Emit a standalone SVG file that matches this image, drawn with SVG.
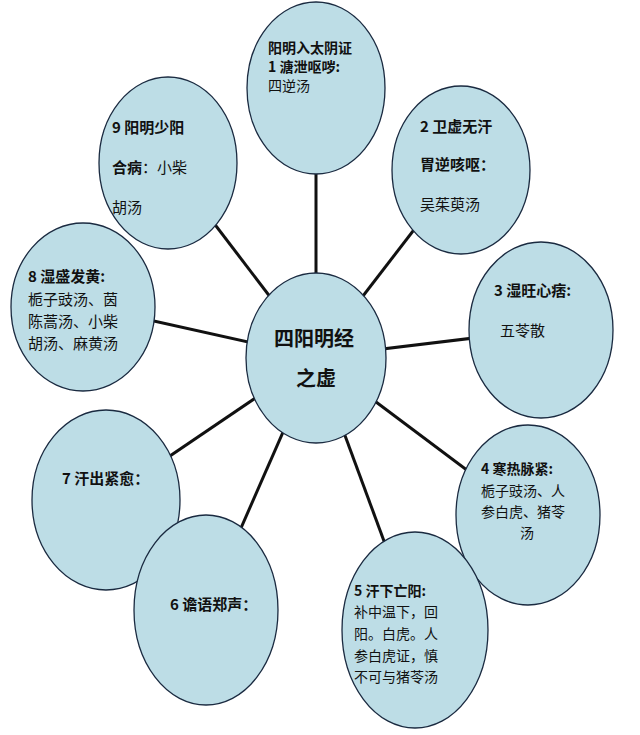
<svg xmlns="http://www.w3.org/2000/svg" width="640" height="735" viewBox="0 0 640 735">
<style>
.n{fill:#bddde6;stroke:#1a2a40;stroke-width:1.3}
.c line{stroke:#111;stroke-width:3}
text{font-family:"Noto Sans CJK SC","Liberation Sans",sans-serif;font-size:15px;fill:#111}
.b{font-weight:bold}
.s{font-size:14px}
.big{font-size:20px}
</style>
<rect width="640" height="735" fill="#fff"/>
<g id="connectors" class="c">
<line x1="316" y1="357" x2="316" y2="90"/>
<line x1="316" y1="357" x2="168" y2="163"/>
<line x1="316" y1="357" x2="460" y2="170"/>
<line x1="316" y1="357" x2="82" y2="305"/>
<line x1="316" y1="357" x2="540" y2="330"/>
<line x1="316" y1="357" x2="105" y2="500"/>
<line x1="316" y1="357" x2="527" y2="515"/>
<line x1="316" y1="357" x2="205" y2="610"/>
<line x1="316" y1="357" x2="415" y2="625"/>
</g>
<g id="n1"><ellipse class="n" cx="316" cy="88" rx="69" ry="86"/>
<text x="268" y="53" class="b s">阳明入太阴证</text>
<text x="268" y="72" class="b s">1 溏泄呕哕:</text>
<text x="268" y="91" class="s">四逆汤</text></g>
<g id="n9"><ellipse class="n" cx="168" cy="163" rx="69" ry="86"/>
<text x="112" y="133" class="b">9  阳明少阳</text>
<text x="112" y="173"><tspan class="b">合病</tspan>：小柴</text>
<text x="112" y="213">胡汤</text></g>
<g id="n2"><ellipse class="n" cx="461" cy="170" rx="69" ry="84"/>
<text x="420" y="132" class="b">2  卫虚无汗</text>
<text x="420" y="170" class="b">胃逆咳呕：</text>
<text x="420" y="210">吴茱萸汤</text></g>
<g id="n8"><ellipse class="n" cx="83" cy="307" rx="72" ry="84"/>
<text x="28" y="282" class="b">8  湿盛发黄:</text>
<text x="28" y="305">栀子豉汤、茵</text>
<text x="28" y="327">陈蒿汤、小柴</text>
<text x="28" y="349">胡汤、麻黄汤</text></g>
<g id="n3"><ellipse class="n" cx="541" cy="330" rx="72" ry="88"/>
<text x="494" y="296" class="b">3 湿旺心痞:</text>
<text x="500" y="336">五苓散</text></g>
<g id="n7"><ellipse class="n" cx="106" cy="500" rx="74" ry="90"/>
<text x="62" y="484" class="b">7 汗出紧愈：</text></g>
<g id="n4"><ellipse class="n" cx="528" cy="515" rx="72" ry="90"/>
<text x="481" y="474" class="b s">4 寒热脉紧:</text>
<text x="481" y="496" class="s">栀子豉汤、人</text>
<text x="481" y="517" class="s">参白虎、猪苓</text>
<text x="520" y="538" class="s">汤</text></g>
<g id="n6"><ellipse class="n" cx="206" cy="610" rx="72" ry="95"/>
<text x="170" y="610" class="b">6  谵语郑声：</text></g>
<g id="n5"><ellipse class="n" cx="415" cy="630" rx="73" ry="98"/>
<text x="354" y="596" class="b s">5 汗下亡阳:</text>
<text x="354" y="617" class="s">补中温下，回</text>
<text x="354" y="639" class="s">阳。白虎。人</text>
<text x="354" y="661" class="s">参白虎证，慎</text>
<text x="354" y="682" class="s">不可与猪苓汤</text></g>
<g id="center"><ellipse class="n" cx="316" cy="358" rx="70" ry="85"/>
<text x="274" y="346" class="b big">四阳明经</text>
<text x="296" y="386" class="b big">之虚</text></g>
</svg>
